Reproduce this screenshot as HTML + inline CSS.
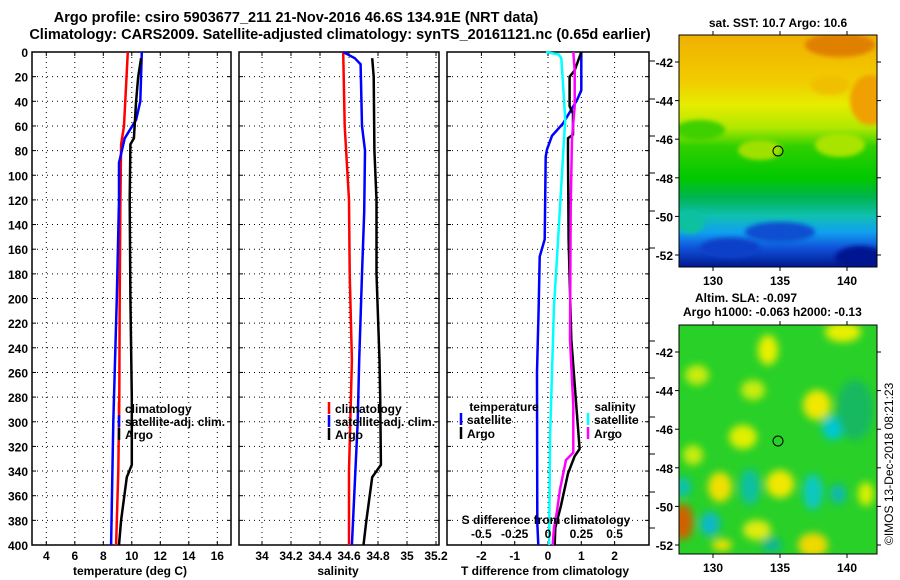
<!DOCTYPE html>
<html><head><meta charset="utf-8"><style>
body{margin:0;background:#fff;}
svg{display:block;font-family:"Liberation Sans",Arial,sans-serif;font-weight:bold;}
</style></head><body>
<svg id="fig" width="900" height="580" viewBox="0 0 900 580" xmlns="http://www.w3.org/2000/svg">
<defs>
<linearGradient id="sstg" x1="0" y1="0" x2="0" y2="1">
<stop offset="0" stop-color="#f0b000"/><stop offset="0.2" stop-color="#f2cc00"/>
<stop offset="0.3" stop-color="#e6ec00"/><stop offset="0.4" stop-color="#b0e800"/>
<stop offset="0.48" stop-color="#30d000"/><stop offset="0.62" stop-color="#00c800"/>
<stop offset="0.7" stop-color="#00b450"/><stop offset="0.78" stop-color="#10c0b0"/>
<stop offset="0.85" stop-color="#10a0f0"/><stop offset="0.92" stop-color="#1050d8"/>
<stop offset="1" stop-color="#001890"/></linearGradient>
<filter id="blur4"><feGaussianBlur stdDeviation="4"/></filter>
<filter id="blur2"><feGaussianBlur stdDeviation="2"/></filter>
<clipPath id="c1"><rect x="679" y="35" width="198" height="232"/></clipPath>
<clipPath id="c2"><rect x="679" y="325" width="198" height="229"/></clipPath>
</defs>
<text x="296" y="22" text-anchor="middle" font-size="14.5">Argo profile: csiro 5903677_211 21-Nov-2016 46.6S 134.91E (NRT data)</text>
<text x="340" y="39" text-anchor="middle" font-size="14.5">Climatology: CARS2009. Satellite-adjusted climatology: synTS_20161121.nc (0.65d earlier)</text>

<g id="p1"></g>
<g id="p2"></g>
<g id="p3"></g>

<g>
<text x="778" y="27" text-anchor="middle" font-size="12">sat. SST: 10.7 Argo: 10.6</text>
<g clip-path="url(#c1)">
<rect x="679" y="35" width="198" height="232" fill="url(#sstg)"/>
<g filter="url(#blur2)">
<ellipse cx="840" cy="45" rx="35" ry="12" fill="#e08000"/>
<ellipse cx="870" cy="100" rx="20" ry="25" fill="#f0a000"/>
<ellipse cx="830" cy="85" rx="20" ry="10" fill="#f0c000"/>
<ellipse cx="760" cy="150" rx="22" ry="10" fill="#a0e000"/>
<ellipse cx="840" cy="145" rx="25" ry="12" fill="#a8e400"/>
<ellipse cx="700" cy="130" rx="25" ry="10" fill="#40d000"/>
<ellipse cx="780" cy="232" rx="35" ry="10" fill="#1050d0"/>
<ellipse cx="730" cy="248" rx="30" ry="10" fill="#1040c8"/>
<ellipse cx="860" cy="258" rx="25" ry="12" fill="#001890"/>
<ellipse cx="690" cy="222" rx="15" ry="12" fill="#10c0a0"/>
</g></g>
<rect x="679" y="35" width="198" height="232" fill="none" stroke="#000"/>
<circle cx="778" cy="151" r="5" fill="none" stroke="#000"/>
</g>

<g>
<text x="695" y="302" font-size="12">Altim. SLA: -0.097</text>
<text x="683" y="316" font-size="12">Argo h1000: -0.063 h2000: -0.13</text>
<g clip-path="url(#c2)">
<rect x="679" y="325" width="198" height="229" fill="#28d028"/>
<g filter="url(#blur4)">
<ellipse cx="768" cy="350" rx="10" ry="15" fill="#e8f000"/>
<ellipse cx="697" cy="375" rx="12" ry="10" fill="#c8ec10"/>
<ellipse cx="753" cy="390" rx="12" ry="10" fill="#c8ec10"/>
<ellipse cx="817" cy="405" rx="14" ry="15" fill="#f0e800"/>
<ellipse cx="743" cy="437" rx="14" ry="12" fill="#e0f000"/>
<ellipse cx="693" cy="455" rx="10" ry="10" fill="#c8ec10"/>
<ellipse cx="720" cy="487" rx="12" ry="15" fill="#f0e000"/>
<ellipse cx="780" cy="484" rx="14" ry="14" fill="#f0e800"/>
<ellipse cx="683" cy="522" rx="10" ry="18" fill="#d06000"/>
<ellipse cx="757" cy="530" rx="14" ry="10" fill="#e0ec10"/>
<ellipse cx="813" cy="545" rx="15" ry="12" fill="#f0d800"/>
<ellipse cx="843" cy="332" rx="18" ry="10" fill="#e8f000"/>
<ellipse cx="866" cy="494" rx="8" ry="12" fill="#d8f000"/>
<ellipse cx="722" cy="545" rx="10" ry="6" fill="#f0e000"/>
<ellipse cx="833" cy="428" rx="11" ry="12" fill="#00c8d0"/>
<ellipse cx="710" cy="524" rx="10" ry="12" fill="#10b8c8"/>
<ellipse cx="750" cy="487" rx="10" ry="18" fill="#10c0a0"/>
<ellipse cx="813" cy="492" rx="10" ry="18" fill="#10c8c0"/>
<ellipse cx="683" cy="487" rx="8" ry="10" fill="#10c0b0"/>
<ellipse cx="838" cy="494" rx="8" ry="10" fill="#10b8b0"/>
<ellipse cx="772" cy="545" rx="10" ry="8" fill="#10b890"/>
<ellipse cx="855" cy="410" rx="18" ry="30" fill="#18b860"/>
</g></g>
<rect x="679" y="325" width="198" height="229" fill="none" stroke="#000"/>
<circle cx="778" cy="441" r="5" fill="none" stroke="#000"/>
<text transform="translate(893,545) rotate(-90)" font-size="12" font-weight="normal">©IMOS 13-Dec-2018 08:21:23</text>
</g>
<g id="maxes"></g>
</svg>

<script>
// depth axis
const depthTicks = [0,20,40,60,80,100,120,140,160,180,200,220,240,260,280,300,320,340,360,380,400];
// Temperature panel data
const tempTicks = [4,6,8,10,12,14,16];
const climDepth = [0,60,75,120,200,280,340,400];
const climTemp  = [9.72,9.45,9.25,9.2,9.15,9.12,9.05,8.9];
const satDepth  = [0,40,55,70,90,120,200,300,400];
const satTemp   = [10.7,10.6,10.3,9.5,9.1,9.1,8.95,8.7,8.55];
const argoDepth = [5,20,40,70,75,120,200,280,335,345,380,400];
const argoTemp  = [10.65,10.45,10.3,10.15,9.9,9.85,9.9,10.0,10.0,9.65,9.25,9.1];
// Salinity panel data
const salTicks = [34,34.2,34.4,34.6,34.8,35,35.2];
const climSalD  = [0,60,120,180,250,340,400];
const climSal   = [34.56,34.57,34.6,34.605,34.62,34.6,34.6];
const satSalD   = [0,5,10,60,80,130,180,250,300,400];
const satSal    = [34.56,34.64,34.68,34.69,34.71,34.705,34.69,34.67,34.66,34.62];
const argoSalD  = [5,20,80,120,180,250,280,335,345,380,400];
const argoSal   = [34.76,34.77,34.775,34.79,34.79,34.81,34.815,34.82,34.76,34.72,34.7];
// Difference panel data
const tDiffTicks = [-2,-1,0,1,2];
const tDiffLabels = ["-2","-1","0","1","2"];
const sDiffTicks = [-0.5,-0.25,0,0.25,0.5];
const sDiffLabels = ["-0.5","-0.25","0","0.25","0.5"];
const tSatDiffD = [0,31,39,58,68,79,85,152,166,206,260,382,400];
const tSatDiff  = [1.0,1.0,0.87,0.45,0.12,-0.03,-0.07,-0.1,-0.25,-0.28,-0.33,-0.32,-0.29];
const sSatDiffD = [0,2,5,55,71,163,206,260,314,382,400];
const sSatDiff  = [-0.015,0.08,0.1,0.13,0.12,0.07,0.045,0.03,0.015,0.01,0.008];
const tArgoDiffD = [0,15,20,44,50,67,70,85,152,233,287,322,328,342,369,386,400];
const tArgoDiff  = [1.0,0.8,0.65,0.65,0.75,0.75,0.6,0.6,0.62,0.7,0.85,0.95,0.8,0.6,0.38,0.22,0.2];
const sArgoDiffD = [0,15,44,70,125,233,287,325,331,355,374,386,400];
const sArgoDiff  = [0.19,0.2,0.2,0.18,0.17,0.165,0.19,0.19,0.135,0.09,0.065,0.045,0.035];

const NS="http://www.w3.org/2000/svg";
const Y0=52, Y1=545;
const yScale = d => Y0 + (d/400)*(Y1-Y0);
function mk(tag, attrs, parent){const e=document.createElementNS(NS,tag);for(const k in attrs)e.setAttribute(k,attrs[k]);parent.appendChild(e);return e;}

function frame(g, x0, x1, xs, xticks, xlabels, showDepth){
  xticks.forEach(v=>{const x=xs(v); if(x>x0+1&&x<x1-1){
    const l=mk('line',{x1:x,x2:x,y1:Y0,y2:Y1,stroke:'#000','stroke-dasharray':'1,4'},g);
    
    
    mk('line',{x1:x,x2:x,y1:Y1,y2:Y1-4,stroke:'#000'},g);mk('line',{x1:x,x2:x,y1:Y0,y2:Y0+4,stroke:'#000'},g);}});
  depthTicks.forEach(d=>{const y=yScale(d);
    if(d>0&&d<400){const l=mk('line',{x1:x0,x2:x1,y1:y,y2:y,stroke:'#000','stroke-dasharray':'1,4'},g);
    
    }
    mk('line',{x1:x0,x2:x0+4,y1:y,y2:y,stroke:'#000'},g);mk('line',{x1:x1,x2:x1-4,y1:y,y2:y,stroke:'#000'},g);
    if(showDepth){const t=mk('text',{x:x0-4,y:y+5,'text-anchor':'end','font-size':'12'},g);t.textContent=d;
      
      }
  });
  const r=mk('rect',{x:x0,y:Y0,width:x1-x0,height:Y1-Y0,fill:'none',stroke:'#000','stroke-width':1.5},g);
  
  
  if(xlabels){xticks.forEach((v,i)=>{const x=xs(v); if(x < x0) return;
    const t=mk('text',{x:x,y:560,'text-anchor':'middle','font-size':'12'},g);t.textContent=xlabels[i];
    
    });}
}
function series(g, xs, vals, depths, color, name){
  let d='';
  vals.forEach((v,i)=>{d+=(i?'L':'M')+xs(v).toFixed(1)+','+yScale(depths[i]).toFixed(1);});
  const p=mk('path',{d:d,fill:'none',stroke:color,'stroke-width':2.5},g);
  
  
}
function legend(g, x, y, color, label, name){
  mk('line',{x1:x,x2:x,y1:y-11,y2:y+1,stroke:color,'stroke-width':2.5},g);
  const t=mk('text',{x:x+6,y:y,'font-size':'12'},g);t.textContent=label;
  
  
}
function label(g,x,y,txt,name){const t=mk('text',{x:x,y:y,'text-anchor':'middle','font-size':'12'},g);t.textContent=txt;
  
  }

const g1=document.getElementById('p1');
const xT = v => 46.3 + (v-4)*14.25;
frame(g1,32,231,xT,tempTicks,tempTicks.map(String),true);
series(g1,xT,climTemp,climDepth,'#ff0000','climatology-temp-line');
series(g1,xT,satTemp,satDepth,'#0000ff','satellite-temp-line');
series(g1,xT,argoTemp,argoDepth,'#000000','argo-temp-line');
legend(g1,119,413,'#ff0000','climatology','legend-climatology');
legend(g1,119,426,'#0000ff','satellite-adj. clim.','legend-satellite');
legend(g1,119,439,'#000000','Argo','legend-argo');
label(g1,130,575,'temperature (deg C)','temperature-axis-title');

const g2=document.getElementById('p2');
const xS = v => 262 + (v-34)*145;
frame(g2,239,439,xS,salTicks,salTicks.map(String),false);
series(g2,xS,climSal,climSalD,'#ff0000','climatology-sal-line');
series(g2,xS,satSal,satSalD,'#0000ff','satellite-sal-line');
series(g2,xS,argoSal,argoSalD,'#000000','argo-sal-line');
legend(g2,329,413,'#ff0000','climatology','legend-climatology-sal');
legend(g2,329,426,'#0000ff','satellite-adj. clim.','legend-satellite-sal');
legend(g2,329,439,'#000000','Argo','legend-argo-sal');
label(g2,338,575,'salinity','salinity-axis-title');

const g3=document.getElementById('p3');
const xD = v => 548 + v*33.3;
const xSD = v => 548 + v*133.3;
frame(g3,447,649,xD,tDiffTicks,tDiffLabels,false);
series(g3,xD,tSatDiff,tSatDiffD,'#0000ff','t-diff-satellite-line');
series(g3,xSD,sSatDiff,sSatDiffD,'#00ffff','s-diff-satellite-line');
series(g3,xD,tArgoDiff,tArgoDiffD,'#000000','t-diff-argo-line');
series(g3,xSD,sArgoDiff,sArgoDiffD,'#ff00ff','s-diff-argo-line');
label(g3,504,411,'temperature','legend-temperature-heading');
legend(g3,461,424,'#0000ff','satellite','legend-t-satellite');
legend(g3,461,438,'#000000','Argo','legend-t-argo');
label(g3,615,411,'salinity','legend-salinity-heading');
legend(g3,588,424,'#00ffff','satellite','legend-s-satellite');
legend(g3,588,438,'#ff00ff','Argo','legend-s-argo');
label(g3,546,524,'S difference from climatology','s-diff-axis-title');
sDiffTicks.forEach((v,i)=>label(g3,xSD(v),538,sDiffLabels[i],'s-diff-tick-label'));
label(g3,545,575,'T difference from climatology','t-diff-axis-title');
[61,99,136,173,211,248,341,378,417,454,492,528].forEach(y=>mk('line',{x1:649,x2:655,y1:y,y2:y,stroke:'#000'},g3));

const ga=document.getElementById('maxes');
const lonX = v => 713 + (v-130)*13.4;
[[35,267,62],[325,554,352]].forEach(([t,b,y42])=>{
  [-42,-44,-46,-48,-50,-52].forEach(lat=>{const y=y42+(-42-lat)*19.3;
    mk('line',{x1:679,x2:675,y1:y,y2:y,stroke:'#000'},ga);mk('line',{x1:877,x2:881,y1:y,y2:y,stroke:'#000'},ga);
    const tx=mk('text',{x:673,y:y+5,'text-anchor':'end','font-size':'12'},ga);tx.textContent=lat;
    
    });
  [130,135,140].forEach(lon=>{const x=lonX(lon);
    mk('line',{x1:x,x2:x,y1:t,y2:t-4,stroke:'#000'},ga);mk('line',{x1:x,x2:x,y1:b,y2:b+4,stroke:'#000'},ga);
    const tx=mk('text',{x:x,y:b+18,'text-anchor':'middle','font-size':'12'},ga);tx.textContent=lon;
    
    });
});
</script>
</body></html>
